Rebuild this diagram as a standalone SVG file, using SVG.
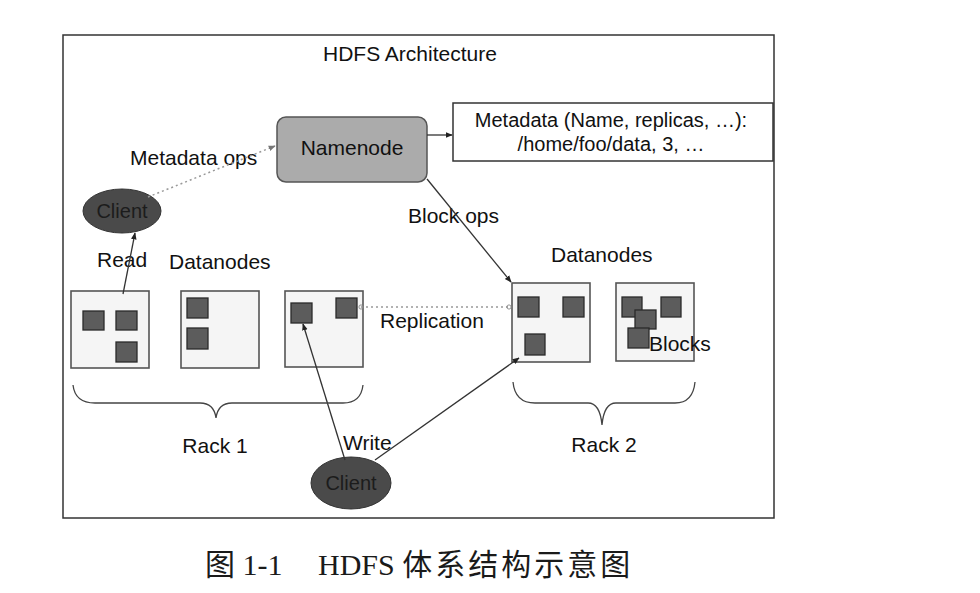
<svg xmlns="http://www.w3.org/2000/svg" width="980" height="593" viewBox="0 0 980 593">
<defs>
<marker id="arr" viewBox="0 0 10 10" refX="9" refY="5" markerWidth="7" markerHeight="7" orient="auto-start-reverse" markerUnits="userSpaceOnUse">
<path d="M0,1 L10,5 L0,9 z" fill="#222"/>
</marker>
<marker id="arrg" viewBox="0 0 10 10" refX="9" refY="5" markerWidth="7" markerHeight="7" orient="auto" markerUnits="userSpaceOnUse">
<path d="M0,1 L10,5 L0,9 z" fill="#777"/>
</marker>
<marker id="dot" viewBox="0 0 10 10" refX="5" refY="5" markerWidth="6" markerHeight="6" markerUnits="userSpaceOnUse">
<circle cx="5" cy="5" r="3.5" fill="none" stroke="#888" stroke-width="1.5"/>
</marker>
</defs>
<style>
.t{font-family:"Liberation Sans",Arial,sans-serif;font-size:21px;fill:#111}
.m{font-family:"Liberation Sans",Arial,sans-serif;font-size:20px;fill:#111}
.cap{font-family:"Liberation Serif","Noto Sans CJK SC",serif;font-size:30px;fill:#1a1a1a}
.dn{fill:#f5f5f5;stroke:#555;stroke-width:1.6}
.blk{fill:#5c5c5c;stroke:#2a2a2a;stroke-width:1.3}
.cl{fill:#4a4a4a;stroke:#333;stroke-width:1}
.clt{font-family:"Liberation Sans",Arial,sans-serif;font-size:20px;fill:#1c1c1c}
.ln{fill:none;stroke:#333;stroke-width:1.3}
.dash{fill:none;stroke:#999;stroke-width:1.5;stroke-dasharray:2 3}
.br{fill:none;stroke:#444;stroke-width:1.3}
</style>
<rect width="980" height="593" fill="#fff"/>
<rect id="frame" x="63" y="35" width="711" height="483" fill="#fff" stroke="#333" stroke-width="1.5"/>
<text class="t" x="323" y="61">HDFS Architecture</text>

<g id="namenode">
<rect x="277" y="117" width="150" height="65" rx="9" fill="#ababab" stroke="#555" stroke-width="1.5"/>
<text class="t" x="352" y="155" text-anchor="middle">Namenode</text>
</g>
<g id="metadata">
<rect x="453" y="103" width="320" height="58" fill="#fff" stroke="#333" stroke-width="1.5"/>
<text class="m" x="611" y="127" text-anchor="middle">Metadata (Name, replicas, …):</text>
<text class="m" x="611" y="151" text-anchor="middle">/home/foo/data, 3, …</text>
</g>
<g id="client-read">
<ellipse class="cl" cx="122" cy="211" rx="39" ry="22"/>
<text class="clt" x="122" y="218" text-anchor="middle">Client</text>
</g>
<g id="client-write">
<ellipse class="cl" cx="351" cy="483" rx="40" ry="26"/>
<text class="clt" x="351" y="490" text-anchor="middle">Client</text>
</g>

<g id="dn1">
<rect class="dn" x="71" y="291" width="78" height="77"/>
<rect class="blk" x="83" y="311" width="21" height="19"/>
<rect class="blk" x="116" y="311" width="21" height="19"/>
<rect class="blk" x="116" y="342" width="21" height="20"/>
</g>
<g id="dn2">
<rect class="dn" x="181" y="291" width="78" height="77"/>
<rect class="blk" x="187" y="298" width="21" height="20"/>
<rect class="blk" x="187" y="328" width="21" height="21"/>
</g>
<g id="dn3">
<rect class="dn" x="285" y="291" width="78" height="76"/>
<rect class="blk" x="291" y="303" width="21" height="20"/>
<rect class="blk" x="336" y="298" width="21" height="20"/>
</g>
<g id="dn4">
<rect class="dn" x="512" y="283" width="78" height="79"/>
<rect class="blk" x="518" y="297" width="21" height="20"/>
<rect class="blk" x="563" y="297" width="21" height="20"/>
<rect class="blk" x="525" y="334" width="20" height="21"/>
</g>
<g id="dn5">
<rect class="dn" x="616" y="283" width="78" height="78"/>
<rect class="blk" x="622" y="297" width="20" height="20"/>
<rect class="blk" x="661" y="297" width="20" height="20"/>
<rect class="blk" x="635" y="310" width="21" height="19"/>
<rect class="blk" x="628" y="328" width="21" height="20"/>
<text class="t" x="649" y="351">Blocks</text>
</g>

<g id="labels">
<text class="t" x="130" y="165">Metadata ops</text>
<text class="t" x="408" y="223">Block ops</text>
<text class="t" x="97" y="267">Read</text>
<text class="t" x="169" y="269">Datanodes</text>
<text class="t" x="551" y="262">Datanodes</text>
<text class="t" x="380" y="328">Replication</text>
<text class="t" x="343" y="450">Write</text>
<text class="t" x="215" y="453" text-anchor="middle">Rack 1</text>
<text class="t" x="604" y="452" text-anchor="middle">Rack 2</text>
</g>

<g id="connectors">
<line class="ln" x1="427" y1="135" x2="452" y2="135" marker-end="url(#arr)"/>
<line class="dash" x1="148" y1="197" x2="275" y2="146" marker-end="url(#arrg)"/>
<line class="ln" x1="427" y1="179" x2="511" y2="282" stroke-width="1.1" marker-end="url(#arr)"/>
<line class="ln" x1="123" y1="294" x2="135" y2="233" stroke-width="1.1" marker-end="url(#arr)"/>
<line class="dash" x1="361" y1="307" x2="509" y2="307" stroke-width="1.2" marker-start="url(#dot)" marker-end="url(#dot)"/>
<line class="ln" x1="345" y1="460" x2="303" y2="324" stroke-width="1.3" marker-end="url(#arr)"/>
<line class="ln" x1="375" y1="460" x2="519" y2="358" stroke-width="1.1" marker-end="url(#arr)"/>
</g>

<g id="braces">
<path class="br" d="M73,385 Q75,403 95,403 L200,403 Q214,403 216,418 Q218,403 232,403 L343,403 Q361,403 363,385"/>
<path class="br" d="M513,382 Q515,403 535,403 L588,403 Q600,403 602,425 Q604,403 616,403 L675,403 Q693,403 695,382"/>
</g>

<text class="cap" x="205" y="575">图 1-1</text>
<text class="cap" x="318" y="575">HDFS <tspan letter-spacing="3">体系结构示意图</tspan></text>
</svg>
